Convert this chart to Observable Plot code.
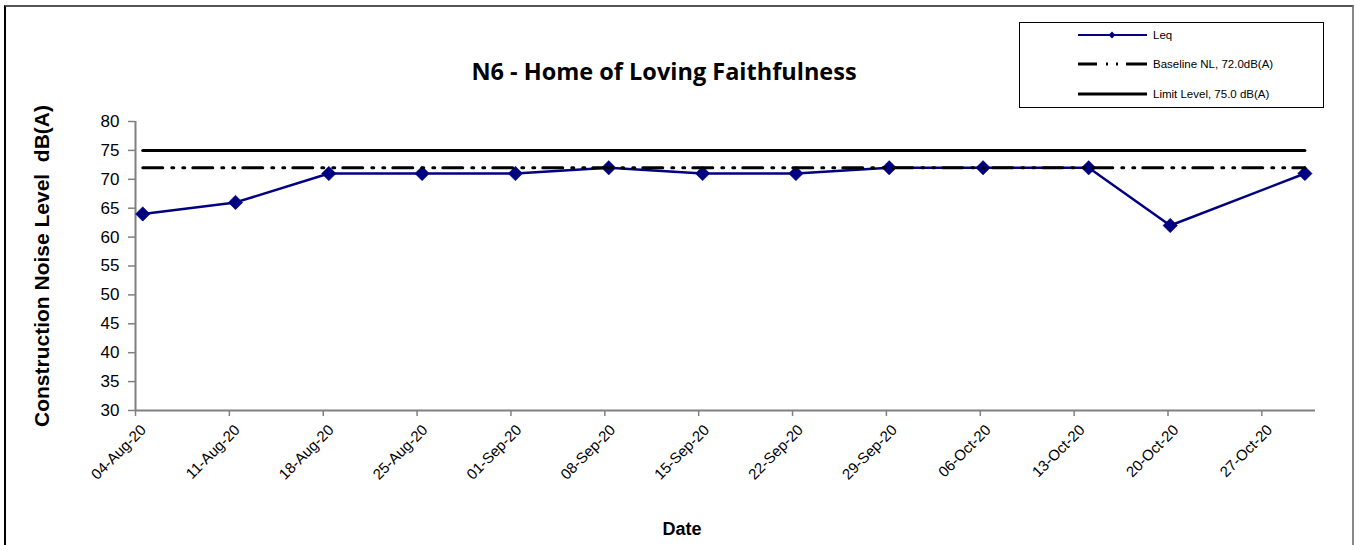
<!DOCTYPE html>
<html><head><meta charset="utf-8">
<script src="https://cdn.jsdelivr.net/npm/d3@7"></script>
<script src="https://cdn.jsdelivr.net/npm/@observablehq/plot@0.6"></script>
<style>
body{margin:0;background:#fff;}
#wrap{position:relative;width:1356px;height:545px;overflow:hidden;font-family:"Liberation Sans",Arial,sans-serif;}
#border{position:absolute;left:4px;top:5px;width:1350px;height:600px;border-left:2px solid #000;border-top:2px solid #555;border-right:2px solid #888;box-sizing:border-box;}
#chart{position:absolute;left:0;top:0;}
#overlay{position:absolute;left:0;top:0;}
</style></head><body>
<div id="wrap"><div id="border"></div><div id="chart"></div><svg id="overlay" width="1356" height="545"></svg></div>
<script>
// ---- data ----
const dates = ["2020-08-04T13:00Z","2020-08-11T11:00Z","2020-08-18T10:00Z","2020-08-25T09:00Z","2020-09-01T08:00Z","2020-09-08T07:00Z","2020-09-15T07:00Z","2020-09-22T06:00Z","2020-09-29T05:00Z","2020-10-06T05:00Z","2020-10-14T02:00Z","2020-10-20T04:00Z","2020-10-30T05:00Z"];
const leq = [64,66,71,71,71,72,71,71,72,72,72,62,71];
const baselineLevel = 72;
const limitLevel = 75;
const tickLabels = ["04-Aug-20","11-Aug-20","18-Aug-20","25-Aug-20","01-Sep-20","08-Sep-20","15-Sep-20","22-Sep-20","29-Sep-20","06-Oct-20","13-Oct-20","20-Oct-20","27-Oct-20"];
const yTicks = [30,35,40,45,50,55,60,65,70,75,80];
const xDomain = ["2020-08-04","2020-10-31"];
const titleText = "N6 - Home of Loving Faithfulness";
const yLabel = "Construction Noise Level  dB(A)";
const xLabel = "Date";
const legendItems = ["Leq","Baseline NL, 72.0dB(A)","Limit Level, 75.0 dB(A)"];

// ---- build ----
const parseTick = d3.utcParse("%d-%b-%y");
const tickDates = tickLabels.map(parseTick);
const data = dates.map((d,i)=>({date:new Date(d), leq:leq[i], base:baselineLevel, limit:limitLevel}));
const navy = "#000080";
const fmt = d=>tickLabels[tickDates.findIndex(t=>+t===+d)];

const chart = Plot.plot({
  width:1356, height:545,
  marginLeft:135, marginRight:41, marginTop:121, marginBottom:135,
  style:{background:"transparent", fontFamily:"'Liberation Sans', Arial, sans-serif", overflow:"visible"},
  x:{type:"utc", domain:xDomain.map(d=>new Date(d))},
  y:{domain:[30,80]},
  marks:[
    Plot.ruleY([30],{stroke:"#808080",strokeWidth:2}),
    Plot.ruleX([new Date(xDomain[0])],{stroke:"#808080",strokeWidth:2}),
    Plot.axisY({ticks:yTicks, tickSize:7, tickPadding:9, stroke:"#808080", strokeWidth:1.5, fill:"#000", fontSize:17, label:null}),
    Plot.axisX({ticks:tickDates, tickFormat:()=>"", tickSize:6, stroke:"#808080", strokeWidth:1.5, label:null}),
    Plot.axisX({ticks:tickDates, tickFormat:fmt, tickSize:0, tickPadding:10, tickRotate:-45, fill:"#000", fontSize:15, label:null, dx:8, dy:7}),
    Plot.line(data,{x:"date",y:"leq",stroke:navy,strokeWidth:2.5}),
    Plot.dot(data,{x:"date",y:"leq",symbol:"diamond2",r:6.5,fill:navy,stroke:navy,strokeWidth:0.5}),
    Plot.line(data,{x:"date",y:"base",stroke:"#000",strokeWidth:3,strokeDasharray:"20,9,2,9,2,8"}),
    Plot.line(data,{x:"date",y:"limit",stroke:"#000",strokeWidth:3})
  ]
});
document.getElementById("chart").appendChild(chart);

// ---- overlay texts & legend ----
const ov = d3.select("#overlay").style("font-family","'Liberation Sans', Arial, sans-serif");
ov.append("text").attr("x",664).attr("y",80).attr("text-anchor","middle")
  .style("font-family","'Open Sans', sans-serif").style("font-weight","bold").style("font-size","23.5px").text(titleText);
ov.append("text").attr("transform","translate(49,266) rotate(-90)").attr("text-anchor","middle")
  .style("font-weight","bold").style("font-size","21px").style("white-space","pre").text(yLabel);
ov.append("text").attr("x",682).attr("y",535).attr("text-anchor","middle")
  .style("font-weight","bold").style("font-size","18px").text(xLabel);

const lg = ov.append("g");
lg.append("rect").attr("x",1019.5).attr("y",22.5).attr("width",304).attr("height",85).attr("fill","#fff").attr("stroke","#000").attr("stroke-width",1);
const rows = [35,64,94];
lg.append("line").attr("x1",1078).attr("x2",1147).attr("y1",rows[0]).attr("y2",rows[0]).attr("stroke",navy).attr("stroke-width",2);
lg.append("path").attr("d",d3.symbol(d3.symbolDiamond2,30)()).attr("transform",`translate(1112,${rows[0]})`).attr("fill",navy);
lg.append("line").attr("x1",1078).attr("x2",1147).attr("y1",rows[1]).attr("y2",rows[1]).attr("stroke","#000").attr("stroke-width",3).attr("stroke-dasharray","19,9,2,8,2,8,21");
lg.append("line").attr("x1",1078).attr("x2",1147).attr("y1",rows[2]).attr("y2",rows[2]).attr("stroke","#000").attr("stroke-width",3);
legendItems.forEach((t,i)=>{
  lg.append("text").attr("x",1153).attr("y",rows[i]).attr("dy","0.35em").style("font-size","11.5px").text(t);
});
</script>
</body></html>
